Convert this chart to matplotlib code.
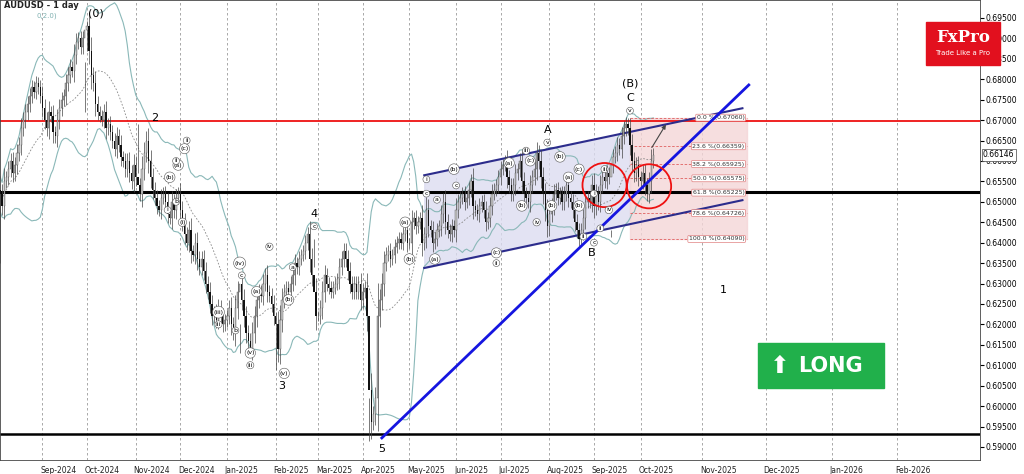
import numpy as np
import pandas as pd
import matplotlib
matplotlib.use("Agg")
import matplotlib.pyplot as plt
from matplotlib.patches import Ellipse, Rectangle

# daily closes, AUDUSD, from 2024-08-05
aug24 = [0.652, 0.649, 0.655, 0.656, 0.658, 0.660, 0.657, 0.659, 0.662, 0.664, 0.668, 0.670, 0.672, 0.674, 0.676, 0.678, 0.677, 0.679, 0.678, 0.676]
sep24 = [0.673, 0.670, 0.668, 0.672, 0.671, 0.667, 0.666, 0.670, 0.673, 0.675, 0.676, 0.679, 0.681, 0.683, 0.682, 0.686, 0.689, 0.690, 0.688, 0.690, 0.692]
oct24 = [0.693, 0.687, 0.681, 0.679, 0.674, 0.672, 0.671, 0.670, 0.672, 0.668, 0.669, 0.667, 0.665, 0.663, 0.666, 0.664, 0.661, 0.660, 0.658, 0.660, 0.657, 0.655, 0.659]
nov24 = [0.656, 0.654, 0.652, 0.658, 0.662, 0.665, 0.660, 0.656, 0.653, 0.651, 0.649, 0.648, 0.651, 0.652, 0.650, 0.647, 0.646, 0.650, 0.648, 0.651, 0.652]
dec24 = [0.648, 0.645, 0.642, 0.640, 0.643, 0.638, 0.637, 0.640, 0.636, 0.634, 0.636, 0.633, 0.630, 0.628, 0.625, 0.622, 0.623, 0.621, 0.624, 0.622, 0.620, 0.621]
jan25 = [0.622, 0.624, 0.620, 0.618, 0.624, 0.628, 0.630, 0.626, 0.622, 0.618, 0.616, 0.614, 0.618, 0.622, 0.626, 0.628, 0.627, 0.630, 0.632, 0.628, 0.627, 0.625, 0.622]
feb25 = [0.620, 0.614, 0.621, 0.626, 0.628, 0.629, 0.628, 0.630, 0.632, 0.635, 0.634, 0.636, 0.637, 0.638, 0.640, 0.642, 0.636, 0.632, 0.628, 0.622]
mar25 = [0.622, 0.624, 0.628, 0.632, 0.630, 0.629, 0.628, 0.629, 0.630, 0.631, 0.634, 0.636, 0.638, 0.636, 0.633, 0.630, 0.628, 0.630, 0.628, 0.630, 0.626]
apr25 = [0.628, 0.629, 0.622, 0.604, 0.596, 0.598, 0.602, 0.622, 0.626, 0.630, 0.635, 0.637, 0.638, 0.636, 0.637, 0.639, 0.640, 0.641, 0.640, 0.642, 0.643, 0.640]
may25 = [0.640, 0.645, 0.646, 0.644, 0.645, 0.646, 0.640, 0.642, 0.648, 0.644, 0.643, 0.640, 0.641, 0.643, 0.644, 0.647, 0.650, 0.645, 0.643, 0.642, 0.644, 0.643]
jun25 = [0.648, 0.650, 0.651, 0.652, 0.650, 0.651, 0.653, 0.655, 0.649, 0.648, 0.647, 0.649, 0.650, 0.648, 0.645, 0.646, 0.649, 0.652, 0.653, 0.654, 0.656]
jul25 = [0.658, 0.659, 0.660, 0.656, 0.654, 0.652, 0.654, 0.657, 0.658, 0.660, 0.655, 0.652, 0.651, 0.650, 0.654, 0.656, 0.658, 0.662, 0.660, 0.656, 0.652, 0.648, 0.644]
aug25 = [0.647, 0.649, 0.652, 0.653, 0.651, 0.652, 0.650, 0.652, 0.654, 0.651, 0.650, 0.648, 0.645, 0.643, 0.641, 0.643, 0.646, 0.650, 0.651, 0.650, 0.654]
sep25 = [0.649, 0.652, 0.650, 0.654, 0.656, 0.655, 0.657, 0.656, 0.659, 0.661, 0.662, 0.664, 0.663, 0.666, 0.668, 0.669, 0.668, 0.664, 0.660, 0.657, 0.659, 0.656]
oct25 = [0.655, 0.657, 0.654, 0.652, 0.655, 0.660, 0.66146]
# a few known extreme wicks (bar index -> (high, low))
wick_marks = {0: (0.6530, 0.6349), 40: (0.6842, 0.6720), 41: (0.6942, 0.6870), 65: (0.6690, 0.6570),
              113: (0.6200, 0.6131), 130: (0.6230, 0.6088), 148: (0.6408, 0.6340),
              174: (0.6020, 0.5914), 288: (0.6430, 0.6414), 295: (0.6707, 0.6660)}

month_labels = ["Sep-2024", "Oct-2024", "Nov-2024", "Dec-2024", "Jan-2025", "Feb-2025", "Mar-2025",
                "Apr-2025", "May-2025", "Jun-2025", "Jul-2025", "Aug-2025", "Sep-2025", "Oct-2025",
                "Nov-2025", "Dec-2025", "Jan-2026", "Feb-2026"]

fib_pcts = [0.0, 23.6, 38.2, 50.0, 61.8, 78.6, 100.0]
fib_hi, fib_lo = 0.67060, 0.64090
red_level = 0.6697
black_level = 0.6523
low_level = 0.5932
last_price = 0.66146

closes = np.array(aug24 + sep24 + oct24 + nov24 + dec24 + jan25 + feb25 + mar25 + apr25 +
                  may25 + jun25 + jul25 + aug25 + sep25 + oct25)
dates = pd.bdate_range("2024-08-05", periods=len(closes))
idx = np.arange(len(closes))
opens = np.r_[closes[0] + 0.001, closes[:-1]]
w = 0.0012 + 0.35 * np.abs(closes - opens)
highs = np.maximum(opens, closes) + w
lows = np.minimum(opens, closes) - w
for k, (h, l) in wick_marks.items():
    highs[k], lows[k] = h, l

fig = plt.figure(figsize=(10.24, 4.74), dpi=100)
ax = fig.add_axes([0.0, 14 / 474, 980 / 1024, 460 / 474])
ax.set_xlim(0, 462)
ax.set_ylim(0.5868, 0.6994)

# month grid (history by bar index, future by calendar days)
last = dates[-1]
for lab in month_labels:
    d = pd.to_datetime(lab, format="%b-%Y")
    if d <= last:
        pos = int(np.searchsorted(dates, d))
    else:
        pos = idx[-1] + (d - last).days
    ax.axvline(pos, color="#9a9a9a", ls=(0, (3, 3)), lw=0.6, zorder=0)
    ax.text(pos - 1, 0.5868 - 0.0015, lab, fontsize=5.5, ha="left", va="top", color="#222")

# bollinger bands
s = pd.Series(closes)
mid = s.rolling(20, min_periods=1).mean()
sd = s.rolling(20, min_periods=2).std().bfill()
ax.plot(idx, mid + 2 * sd, color="#8ab8b8", lw=0.8, zorder=1)
ax.plot(idx, mid - 2 * sd, color="#8ab8b8", lw=0.8, zorder=1)
ax.plot(idx, mid, color="#888", lw=0.6, ls=(0, (2, 2)), zorder=1)

# channel + fib zone
cx = np.array([200, 350])
up = np.array([0.6565, 0.6729])
dn = np.array([0.6338, 0.6504])
fx = np.linspace(200, 297, 50)
ax.fill_between(fx, np.interp(fx, cx, dn), np.interp(fx, cx, up), color="#dcdcf0", alpha=0.8, zorder=0.5)
ax.plot(cx, up, color="#2c2c8c", lw=1.5, zorder=3)
ax.plot(cx, dn, color="#2c2c8c", lw=1.5, zorder=3)
ax.add_patch(Rectangle((297, fib_lo), 55, fib_hi - fib_lo, color="#f4d6d8", alpha=0.8, zorder=0.5))
for p in fib_pcts:
    lv = fib_hi - (fib_hi - fib_lo) * p / 100
    ax.plot([297, 352], [lv, lv], color="#e06060", lw=0.6, ls=(0, (3, 2)), zorder=2)
    ax.text(351, lv, f"{p:.1f} %({lv:.5f})", fontsize=4.5, ha="right", va="center", color="#333",
            bbox=dict(boxstyle="round,pad=0.15", fc="white", ec="#e08080", lw=0.5), zorder=6)

ax.axhline(red_level, color="#ee1111", lw=1.3, zorder=2)
ax.axhline(black_level, color="black", lw=2.2, zorder=2)
ax.axhline(low_level, color="black", lw=1.8, zorder=2)

# candles
up_m = closes >= opens
ax.vlines(idx, lows, highs, color="#444", lw=0.5, zorder=4)
ax.bar(idx[up_m], (closes - opens)[up_m], bottom=opens[up_m], width=0.6, color="#c8c8c8", edgecolor="#555", lw=0.3, zorder=5)
ax.bar(idx[~up_m], (opens - closes)[~up_m], bottom=closes[~up_m], width=0.6, color="#111", lw=0, zorder=5)

# trend line
ax.plot([180, 353], [0.5922, 0.6786], color="#1515e0", lw=2, zorder=6)

# circles and arrow
for cxp, cyp in [(285, 0.6541), (306, 0.6538)]:
    ax.add_patch(Ellipse((cxp, cyp), 20.8, 0.0108, fill=False, ec="#ee1111", lw=1.3, zorder=7))
ax.annotate("", xy=(314.6, 0.6695), xytext=(306.6, 0.6627),
            arrowprops=dict(arrowstyle="-|>", color="#444", lw=0.8, mutation_scale=6), zorder=7)

# wave labels
big = [("(0)", 45, 0.6960), ("2", 73, 0.6705), ("3", 133, 0.6050), ("4", 148, 0.6470),
       ("5", 180, 0.5895), ("A", 258, 0.6675), ("B", 279, 0.6375), ("C", 297, 0.6755),
       ("(B)", 297, 0.6790), ("1", 341, 0.6285)]
for t, x, y in big:
    ax.text(x, y, t, fontsize=8, ha="center", va="center", zorder=8)
small = [("(a)", 84, 0.6590), ("(b)", 80, 0.6560), ("(c)", 87, 0.6630), ("ii", 88, 0.6650), ("i", 79, 0.6480),
         ("ii", 83, 0.6600), ("(i)", 86, 0.6450), ("b", 83, 0.6500), ("(iii)", 103, 0.6230), ("iii", 103, 0.6200),
         ("(iv)", 113, 0.6350), ("c", 114, 0.6320), ("(v)", 118, 0.6130), ("iii", 118, 0.6100), ("b", 111, 0.6185),
         ("iv", 127, 0.6390), ("(a)", 121, 0.6280), ("(b)", 136, 0.6260), ("a", 138, 0.6340), ("(v)", 134, 0.6080),
         ("c", 148, 0.6440), ("(a)", 191, 0.6450), ("(b)", 193, 0.6360), ("i", 201, 0.6555), ("c", 201, 0.6520),
         ("a", 206, 0.6505), ("(a)", 205, 0.6360), ("(b)", 214, 0.6580), ("c", 215, 0.6540), ("(c)", 234, 0.6375),
         ("ii", 234, 0.6350), ("(a)", 240, 0.6595), ("(b)", 246, 0.6490), ("(c)", 250, 0.6600), ("iii", 248, 0.6625),
         ("v", 258, 0.6645), ("(b)", 260, 0.6490), ("iv", 253, 0.6450), ("(a)", 268, 0.6560), ("(b)", 273, 0.6490),
         ("(c)", 273, 0.6580), ("(b)", 264, 0.6610), ("ii", 275, 0.6415), ("c", 280, 0.6400), ("i", 280, 0.6520),
         ("iii", 285, 0.6580), ("iv", 287, 0.6480), ("ii", 283, 0.6435), ("v", 297, 0.6723)]
for t, x, y in small:
    ax.text(x, y, t, fontsize=4.5, ha="center", va="center", zorder=8,
            bbox=dict(boxstyle="circle,pad=0.15", fc="white", ec="#555", lw=0.4))

# axes styling
ax.yaxis.tick_right()
yt = np.arange(0.590, 0.6951, 0.005)
ax.set_yticks(yt)
ax.set_yticklabels([f"{v:.5f}" for v in yt], fontsize=5.5)
ax.tick_params(axis="y", length=3, pad=1)
ax.set_xticks([])
for sp in ax.spines.values():
    sp.set_color("#444")
    sp.set_linewidth(0.6)
ax.text(1.003, last_price, f"{last_price:.5f}", transform=ax.get_yaxis_transform(), fontsize=5.5,
        va="center", ha="left", bbox=dict(boxstyle="square,pad=0.15", fc="white", ec="#444", lw=0.5), zorder=9)
ax.text(2, 0.6980, "AUDUSD - 1 day", fontsize=6, fontweight="bold", va="center", color="#222")
ax.text(17, 0.6955, "0,2.0)", fontsize=5, va="center", color="#7fb0b0")

# LONG badge
fig.patches.append(Rectangle((758 / 1024, 1 - 388 / 474), 126 / 1024, 45 / 474, transform=fig.transFigure,
                             color="#21b04b", zorder=10))
fig.text(780 / 1024, 1 - 366 / 474, "⬆", fontsize=17, color="white", ha="center", va="center",
         family=["DejaVu Sans"], zorder=11)
fig.text(830 / 1024, 1 - 366 / 474, "LONG", fontsize=15, color="white", fontweight="bold",
         ha="center", va="center", zorder=11)

# FxPro logo
fig.patches.append(Rectangle((926 / 1024, 1 - 65 / 474), 74 / 1024, 43 / 474, transform=fig.transFigure,
                             color="#e2101e", zorder=10))
fig.text(963 / 1024, 1 - 38 / 474, "FxPro", fontsize=12, color="white", fontweight="bold",
         family="DejaVu Serif", ha="center", va="center", zorder=11)
fig.text(963 / 1024, 1 - 53 / 474, "Trade Like a Pro", fontsize=5, color="white", ha="center", va="center", zorder=11)

fig.savefig("out.png", dpi=100)
